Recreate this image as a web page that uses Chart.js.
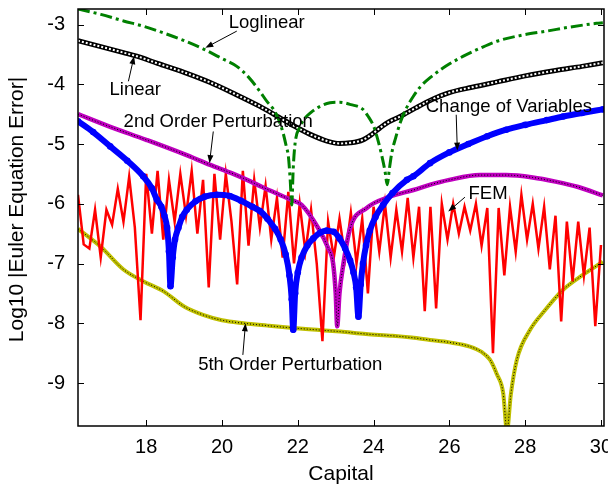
<!DOCTYPE html>
<html>
<head>
<meta charset="utf-8">
<script src="https://cdn.jsdelivr.net/npm/chart.js@4.4.1/dist/chart.umd.min.js"></script>
<style>
  body { margin: 0; background: #fff; }
  canvas { display: block; }
</style>
</head>
<body>
<canvas id="errors" width="608" height="490"></canvas>
<script>
// axis ticks
var xTicks = [18, 20, 22, 24, 26, 28, 30];
var yTicks = [-9, -8, -7, -6, -5, -4, -3];

// Change of Variables
var covX = [16.2, 16.6, 17.05, 17.5, 17.92, 18.15, 18.28, 18.4, 18.48, 18.55, 18.6, 18.64, 18.7, 18.76, 18.85, 18.95, 19.07, 19.3, 19.55, 19.86, 20.2, 20.5, 20.8, 21.0, 21.2, 21.4, 21.55, 21.68, 21.78, 21.84, 21.88, 21.93, 22.0, 22.1, 22.25, 22.41, 22.6, 22.76, 22.95, 23.1, 23.25, 23.38, 23.47, 23.54, 23.6, 23.66, 23.72, 23.8, 23.9, 24.05, 24.25, 24.5, 24.88, 25.05, 25.49, 26.0, 26.5, 27.0, 27.5, 28.0, 28.57, 29.0, 29.5, 30.05];
var covY = [-4.62, -4.8, -5.04, -5.28, -5.54, -5.74, -5.93, -6.05, -6.2, -6.4, -6.8, -7.38, -6.9, -6.6, -6.4, -6.22, -6.1, -5.96, -5.88, -5.85, -5.87, -5.95, -6.05, -6.12, -6.25, -6.42, -6.6, -6.85, -7.2, -7.6, -8.11, -7.5, -7.15, -6.9, -6.7, -6.58, -6.48, -6.45, -6.47, -6.58, -6.75, -6.95, -7.15, -7.4, -7.89, -7.35, -7.0, -6.7, -6.45, -6.22, -6.02, -5.82, -5.6, -5.54, -5.32, -5.14, -5.0, -4.87, -4.76, -4.68, -4.6, -4.54, -4.48, -4.42];

// Loglinear
var logX = [16.2, 16.8, 17.4, 17.93, 18.5, 19.0, 19.51, 20.0, 20.39, 20.7, 21.0, 21.2, 21.36, 21.5, 21.61, 21.7, 21.75, 21.8, 21.84, 21.88, 21.93, 22.05, 22.15, 22.35, 22.59, 22.85, 23.1, 23.4, 23.72, 23.87, 24.0, 24.1, 24.2, 24.3, 24.36, 24.42, 24.48, 24.58, 24.7, 24.85, 25.05, 25.25, 25.49, 25.9, 26.37, 26.8, 27.25, 27.9, 28.57, 29.2, 29.88, 30.05];
var logY = [-2.74, -2.83, -2.94, -3.03, -3.15, -3.27, -3.41, -3.57, -3.7, -3.88, -4.12, -4.3, -4.42, -4.6, -4.81, -5.05, -5.2, -5.6, -6.02, -5.4, -4.98, -4.72, -4.6, -4.47, -4.37, -4.31, -4.3, -4.34, -4.42, -4.55, -4.7, -4.9, -5.15, -5.45, -5.68, -5.4, -5.15, -4.9, -4.65, -4.42, -4.2, -4.03, -3.89, -3.7, -3.53, -3.4, -3.28, -3.18, -3.11, -3.04, -2.98, -2.97];

// Linear
var linX = [16.2, 16.8, 17.4, 17.75, 18.3, 19.0, 19.69, 20.3, 21.0, 21.5, 21.88, 22.3, 22.77, 23.1, 23.38, 23.72, 23.95, 24.17, 24.4, 24.7, 25.1, 25.49, 26.0, 26.6, 27.26, 28.0, 28.8, 29.5, 30.05];
var linY = [-3.27, -3.37, -3.47, -3.53, -3.65, -3.8, -3.97, -4.15, -4.37, -4.55, -4.69, -4.83, -4.95, -4.99, -4.98, -4.93, -4.84, -4.73, -4.63, -4.54, -4.4, -4.27, -4.14, -4.05, -3.96, -3.86, -3.77, -3.7, -3.64];

// 2nd Order Perturbation
var so2X = [16.2, 17.0, 18.0, 19.0, 19.69, 20.3, 20.66, 21.06, 21.8, 22.1, 22.54, 22.8, 22.93, 23.0, 23.04, 23.1, 23.2, 23.38, 23.82, 24.43, 25.05, 25.5, 26.0, 26.8, 27.5, 28.2, 28.8, 29.4, 30.05];
var so2Y = [-4.5, -4.7, -4.93, -5.17, -5.35, -5.5, -5.6, -5.72, -5.93, -6.02, -6.41, -6.74, -6.99, -7.5, -8.05, -7.5, -7.02, -6.41, -6.07, -5.88, -5.77, -5.68, -5.6, -5.52, -5.52, -5.56, -5.63, -5.72, -5.86];

// FEM
var femX = [16.2, 16.35, 16.5, 16.65, 16.8, 16.95, 17.1, 17.25, 17.4, 17.55, 17.7, 17.85, 18.0, 18.15, 18.3, 18.45, 18.6, 18.75, 18.9, 19.05, 19.2, 19.35, 19.5, 19.65, 19.8, 19.95, 20.1, 20.25, 20.4, 20.55, 20.7, 20.85, 21.0, 21.15, 21.3, 21.45, 21.6, 21.75, 21.9, 22.05, 22.2, 22.35, 22.5, 22.65, 22.8, 22.95, 23.1, 23.25, 23.4, 23.55, 23.7, 23.85, 24.0, 24.15, 24.3, 24.45, 24.6, 24.75, 24.9, 25.05, 25.2, 25.35, 25.5, 25.65, 25.8, 25.95, 26.1, 26.25, 26.4, 26.55, 26.7, 26.85, 27.0, 27.15, 27.3, 27.45, 27.6, 27.75, 27.9, 28.05, 28.2, 28.35, 28.5, 28.65, 28.8, 28.95, 29.1, 29.25, 29.4, 29.55, 29.7, 29.85, 30.0];
var femY = [-5.85, -6.68, -6.75, -6.1, -6.9, -6.1, -6.35, -5.75, -6.3, -5.55, -6.4, -7.95, -5.5, -6.5, -5.45, -6.6, -5.6, -6.3, -5.5, -6.2, -5.45, -6.5, -5.6, -7.4, -5.5, -6.6, -5.5, -6.3, -7.35, -5.45, -6.7, -5.6, -6.4, -5.7, -6.6, -5.9, -6.9, -5.8, -7.0, -6.0, -6.8, -6.1, -7.0, -8.3, -6.3, -6.9, -6.25, -6.9, -6.15, -7.0, -6.25, -7.5, -6.05, -6.8, -6.0, -6.9, -6.1, -6.8, -5.9, -6.9, -6.05, -7.8, -6.05, -7.75, -6.0, -6.6, -6.0, -6.5, -6.05, -6.45, -6.0, -6.7, -6.07, -8.5, -6.07, -7.2, -6.05, -6.8, -5.85, -6.6, -6.0, -6.75, -6.05, -7.1, -6.2, -7.97, -6.3, -7.3, -6.3, -7.2, -6.4, -8.05, -6.69];

// 5th Order Perturbation
var so5X = [16.2, 16.8, 17.4, 17.93, 18.47, 19.0, 19.5, 20.0, 20.57, 21.2, 21.88, 22.5, 23.12, 23.8, 24.5, 25.0, 25.49, 26.0, 26.54, 26.85, 27.07, 27.25, 27.42, 27.52, 27.62, 27.78, 28.13, 28.5, 29.0, 29.5, 29.93, 30.05];
var so5Y = [-6.42, -6.72, -7.1, -7.3, -7.47, -7.72, -7.86, -7.95, -8.0, -8.04, -8.08, -8.11, -8.14, -8.18, -8.21, -8.24, -8.28, -8.32, -8.39, -8.48, -8.61, -8.85, -9.17, -9.8, -9.2, -8.61, -8.11, -7.8, -7.44, -7.2, -7.02, -6.97];

// text labels with arrows (data coordinates)
var notes = [
    { text: 'Loglinear', x: 21.18, y: -2.97, from: [20.39, -3.11], to: [19.56, -3.39] },
    { text: 'Linear', x: 17.71, y: -4.09, from: [17.53, -3.95], to: [17.68, -3.53] },
    { text: '2nd Order Perturbation', x: 19.9, y: -4.63, from: [19.77, -4.79], to: [19.67, -5.32] },
    { text: 'Change of Variables', x: 27.57, y: -4.38, from: [26.18, -4.51], to: [26.21, -5.11] },
    { text: 'FEM', x: 27.02, y: -5.84, from: [26.41, -5.89], to: [25.97, -6.13] },
    { text: '5th Order Perturbation', x: 21.8, y: -8.69, from: [20.55, -8.53], to: [20.62, -8.0] }
];
var yTitle = 'Log10 |Euler Equation Error|';

function pts(xs, ys) {
    return xs.map(function (v, i) { return { x: v, y: ys[i] }; });
}

var frame = {
    id: 'frame',
    afterDatasetsDraw: function (chart) {
        var ctx = chart.ctx, a = chart.chartArea;
        var x = chart.scales.x, y = chart.scales.y;
        ctx.save();
        ctx.strokeStyle = '#000';
        ctx.lineWidth = 1.5;
        ctx.strokeRect(a.left, a.top, a.right - a.left, a.bottom - a.top);
        ctx.lineWidth = 1;
        ctx.beginPath();
        xTicks.forEach(function (v) {
            var p = Math.round(x.getPixelForValue(v)) + 0.5;
            ctx.moveTo(p, a.bottom); ctx.lineTo(p, a.bottom - 6);
            ctx.moveTo(p, a.top); ctx.lineTo(p, a.top + 6);
        });
        yTicks.forEach(function (v) {
            var p = Math.round(y.getPixelForValue(v)) + 0.5;
            ctx.moveTo(a.left, p); ctx.lineTo(a.left + 6, p);
            ctx.moveTo(a.right, p); ctx.lineTo(a.right - 6, p);
        });
        ctx.stroke();

        // y title, sits a bit above the plot centre
        ctx.save();
        ctx.font = '21px "Liberation Sans", Arial, sans-serif';
        ctx.fillStyle = '#000';
        ctx.textAlign = 'center';
        ctx.textBaseline = 'middle';
        ctx.translate(17, (a.top + a.bottom) / 2 - 8);
        ctx.rotate(-Math.PI / 2);
        ctx.fillText(yTitle, 0, 0);
        ctx.restore();

        // labels + arrows
        ctx.font = '18.5px "Liberation Sans", Arial, sans-serif';
        ctx.fillStyle = '#000';
        ctx.textAlign = 'center';
        ctx.textBaseline = 'middle';
        notes.forEach(function (n) {
            ctx.fillText(n.text, x.getPixelForValue(n.x), y.getPixelForValue(n.y));
            var x0 = x.getPixelForValue(n.from[0]), y0 = y.getPixelForValue(n.from[1]);
            var x1 = x.getPixelForValue(n.to[0]), y1 = y.getPixelForValue(n.to[1]);
            var ang = Math.atan2(y1 - y0, x1 - x0);
            ctx.beginPath();
            ctx.moveTo(x0, y0);
            ctx.lineTo(x1 - 6 * Math.cos(ang), y1 - 6 * Math.sin(ang));
            ctx.stroke();
            ctx.beginPath();
            ctx.moveTo(x1, y1);
            ctx.lineTo(x1 - 8 * Math.cos(ang) + 3 * Math.sin(ang), y1 - 8 * Math.sin(ang) - 3 * Math.cos(ang));
            ctx.lineTo(x1 - 8 * Math.cos(ang) - 3 * Math.sin(ang), y1 - 8 * Math.sin(ang) + 3 * Math.cos(ang));
            ctx.closePath();
            ctx.fill();
        });
        ctx.restore();
    }
};

Chart.defaults.font.family = '"Liberation Sans", Arial, sans-serif';
Chart.defaults.color = '#000';

var ctxErr = document.getElementById('errors').getContext('2d');

var errChart = new Chart(ctxErr, {
    type: 'line',
    data: {
        datasets: [
            {
                label: 'Change of Variables',
                data: pts(covX, covY),
                borderColor: '#0000ff',
                backgroundColor: '#0000ff',
                borderWidth: 6,
                pointRadius: 3.3,
                pointBorderWidth: 0,
                cubicInterpolationMode: 'monotone'
            },
            {
                label: 'Loglinear',
                data: pts(logX, logY),
                borderColor: '#008000',
                borderWidth: 3,
                borderDash: [12, 4, 3, 4],
                pointRadius: 0,
                cubicInterpolationMode: 'monotone'
            },
            {
                label: 'Linear dots',
                data: pts(linX, linY),
                borderColor: '#ffffff',
                borderWidth: 2,
                borderDash: [2, 2],
                pointRadius: 0,
                cubicInterpolationMode: 'monotone'
            },
            {
                label: 'Linear',
                data: pts(linX, linY),
                borderColor: '#000000',
                borderWidth: 5,
                pointRadius: 0,
                cubicInterpolationMode: 'monotone'
            },
            {
                label: '2nd dots',
                data: pts(so2X, so2Y),
                borderColor: '#000000',
                borderWidth: 1,
                borderDash: [1, 2],
                pointRadius: 0,
                cubicInterpolationMode: 'monotone'
            },
            {
                label: '2nd Order Perturbation',
                data: pts(so2X, so2Y),
                borderColor: '#bf00bf',
                borderWidth: 4.5,
                pointRadius: 0,
                cubicInterpolationMode: 'monotone'
            },
            {
                label: 'FEM',
                data: pts(femX, femY),
                borderColor: '#ff0000',
                borderWidth: 2.5,
                pointRadius: 0,
                tension: 0
            },
            {
                label: '5th dots',
                data: pts(so5X, so5Y),
                borderColor: '#000000',
                borderWidth: 1,
                borderDash: [1, 2],
                pointRadius: 0,
                cubicInterpolationMode: 'monotone'
            },
            {
                label: '5th Order Perturbation',
                data: pts(so5X, so5Y),
                borderColor: '#bfbf00',
                borderWidth: 4,
                pointRadius: 0,
                cubicInterpolationMode: 'monotone'
            }
        ]
    },
    options: {
        responsive: false,
        animation: false,
        devicePixelRatio: 1,
        layout: { padding: { top: 9, right: 4, left: 0, bottom: 0 } },
        plugins: {
            legend: { display: false },
            tooltip: { enabled: false }
        },
        scales: {
            x: {
                type: 'linear',
                min: 16.2,
                max: 30.08,
                afterBuildTicks: function (s) { s.ticks = xTicks.map(function (v) { return { value: v }; }); },
                afterFit: function (s) { s.height = 64; s.paddingLeft = 0; s.paddingRight = 4; },
                grid: { display: false, drawTicks: false },
                border: { display: false },
                ticks: { font: { size: 20 }, padding: 9, maxRotation: 0 },
                title: { display: true, text: 'Capital', font: { size: 21 }, padding: { top: 0, bottom: 3 } }
            },
            y: {
                type: 'linear',
                min: -9.72,
                max: -2.74,
                afterBuildTicks: function (s) { s.ticks = yTicks.map(function (v) { return { value: v }; }); },
                afterFit: function (s) { s.width = 78; s.paddingTop = 0; s.paddingBottom = 0; },
                grid: { display: false, drawTicks: false },
                border: { display: false },
                ticks: { font: { size: 20 }, padding: 13 }
            }
        }
    },
    plugins: [frame]
});
</script>
</body>
</html>
